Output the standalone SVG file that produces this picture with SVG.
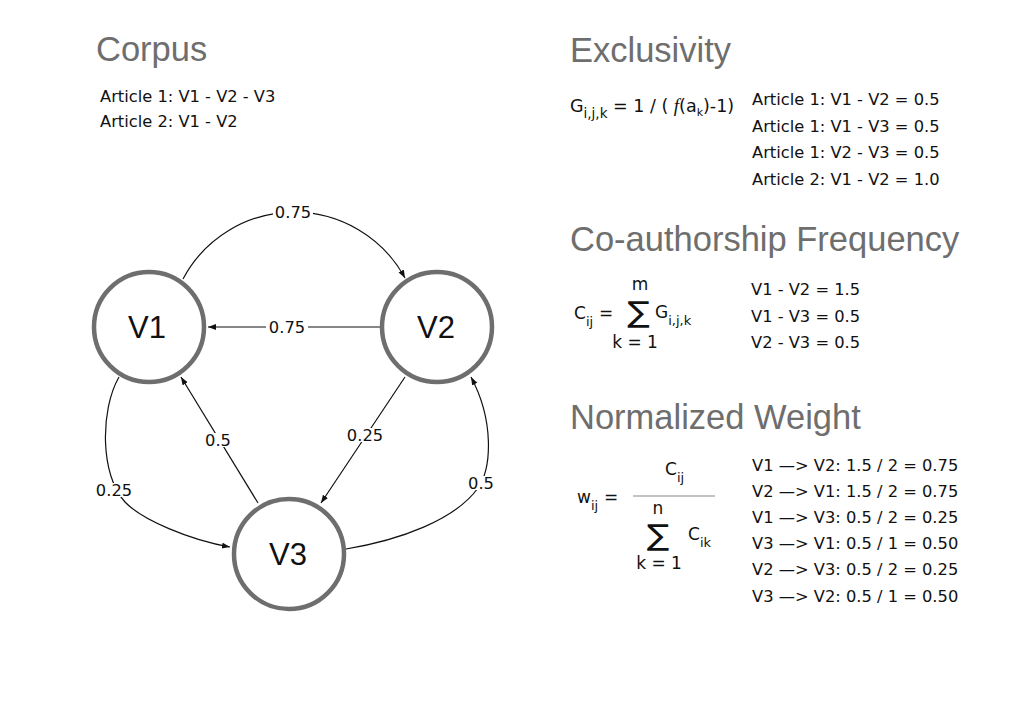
<svg xmlns="http://www.w3.org/2000/svg" width="1024" height="702" viewBox="0 0 1024 702">
<style>
.h{font-family:"Liberation Sans",Arial,sans-serif;font-size:34.5px;fill:#6e6e6e}
.t{font-family:"DejaVu Sans",Verdana,sans-serif;font-size:16.3px;fill:#111}
.f{font-family:"DejaVu Sans",Verdana,sans-serif;font-size:17px;fill:#111}
.s{font-size:13px}
.sig{font-family:"DejaVu Sans",sans-serif;fill:#111;text-anchor:middle;font-size:29px}
.node circle{fill:#fff;stroke:#6e6e6e;stroke-width:4.5}
.node text{font-family:"Liberation Sans",Arial,sans-serif;font-size:31px;fill:#111;text-anchor:middle}
.edge{fill:none;stroke:#111;stroke-width:1.2;marker-end:url(#arr)}
.bg{fill:#fff}
.lbl{font-family:"DejaVu Sans",Verdana,sans-serif;font-size:16.3px;fill:#111;text-anchor:middle}
</style>
<defs>
<marker id="arr" markerUnits="userSpaceOnUse" markerWidth="9" markerHeight="7" refX="8" refY="3" orient="auto">
<path d="M0,0 L8,3 L0,6 z" fill="#111"/>
</marker>
</defs>
<rect width="1024" height="702" fill="#fff"/>

<g id="corpus">
<text class="h" x="96" y="61">Corpus</text>
<text class="t" x="100" y="102">Article 1: V1 - V2 - V3</text>
<text class="t" x="100" y="127">Article 2: V1 - V2</text>
</g>

<g id="connectors">
<path class="edge" d="M183,279 A126,126 0 0,1 405,278"/>
<path class="edge" d="M380,327 L208,327"/>
<path class="edge" d="M258,503 L181,377"/>
<path class="edge" d="M405,377 L321,503"/>
<path class="edge" d="M119,377 C100,410 100,475 125,502 C142,520 190,540 230,547"/>
<path class="edge" d="M346,549 C400,540 455,520 478,488 C492,468 494,420 471,377"/>
<rect class="bg" x="273" y="205" width="40" height="14"/>
<rect class="bg" x="266" y="320" width="42" height="14"/>
<rect class="bg" x="203" y="433" width="30" height="14"/>
<rect class="bg" x="345" y="428" width="40" height="14"/>
<rect class="bg" x="94" y="483" width="40" height="14"/>
<rect class="bg" x="466" y="476" width="30" height="14"/>
<text class="lbl" x="293" y="218">0.75</text>
<text class="lbl" x="287" y="333">0.75</text>
<text class="lbl" x="218" y="446">0.5</text>
<text class="lbl" x="365" y="441">0.25</text>
<text class="lbl" x="114" y="496">0.25</text>
<text class="lbl" x="481" y="489">0.5</text>
</g>

<g id="V1" class="node"><circle cx="149" cy="327" r="55"/><text x="147" y="338">V1</text></g>
<g id="V2" class="node"><circle cx="437" cy="327" r="55"/><text x="436" y="338">V2</text></g>
<g id="V3" class="node"><circle cx="289" cy="554" r="55"/><text x="288" y="565">V3</text></g>

<g id="exclusivity">
<text class="h" x="570" y="62">Exclusivity</text>
<text class="f" x="570" y="112" style="font-size:17.5px">G<tspan dy="6" style="font-size:13.5px">i,j,k</tspan><tspan dy="-6"> = 1 / ( </tspan><tspan style="font-family:'Liberation Serif',serif;font-style:italic;font-size:19px">f</tspan><tspan>(a</tspan><tspan dy="4" style="font-size:11px">k</tspan><tspan dy="-4">)-1)</tspan></text>
<text class="t" x="752" y="105">Article 1: V1 - V2 = 0.5</text>
<text class="t" x="752" y="131.5">Article 1: V1 - V3 = 0.5</text>
<text class="t" x="752" y="158">Article 1: V2 - V3 = 0.5</text>
<text class="t" x="752" y="184.5">Article 2: V1 - V2 = 1.0</text>
</g>

<g id="coauthorship">
<text class="h" x="570" y="251">Co-authorship Frequency</text>
<text class="f" x="640" y="290" text-anchor="middle">m</text>
<text class="f" x="574" y="319">C<tspan class="s" dy="7">ij</tspan></text>
<text class="f" x="599" y="319">=</text>
<text class="sig" transform="translate(638.5,322) scale(1.15,1)">∑</text>
<text class="f" x="655" y="318">G<tspan class="s" dy="7">i,j,k</tspan></text>
<text class="f" x="635" y="348" text-anchor="middle">k = 1</text>
<text class="t" x="751" y="295">V1 - V2 = 1.5</text>
<text class="t" x="751" y="321.5">V1 - V3 = 0.5</text>
<text class="t" x="751" y="348">V2 - V3 = 0.5</text>
</g>

<g id="normalized">
<text class="h" x="570" y="429">Normalized Weight</text>
<text class="f" x="577" y="503">w<tspan class="s" dy="7">ij</tspan></text>
<text class="f" x="604" y="503">=</text>
<line x1="633" y1="496" x2="715" y2="496" stroke="#888" stroke-width="1.2"/>
<text class="f" x="665" y="475">C<tspan class="s" dy="7">ij</tspan></text>
<text class="f" x="658" y="514" text-anchor="middle">n</text>
<text class="sig" transform="translate(658,545) scale(1.15,1)">∑</text>
<text class="f" x="688" y="540">C<tspan class="s" dy="7">ik</tspan></text>
<text class="f" x="659" y="569" text-anchor="middle">k = 1</text>
<text class="t" x="752" y="471">V1 —&gt; V2: 1.5 / 2 = 0.75</text>
<text class="t" x="752" y="497">V2 —&gt; V1: 1.5 / 2 = 0.75</text>
<text class="t" x="752" y="523">V1 —&gt; V3: 0.5 / 2 = 0.25</text>
<text class="t" x="752" y="549">V3 —&gt; V1: 0.5 / 1 = 0.50</text>
<text class="t" x="752" y="575">V2 —&gt; V3: 0.5 / 2 = 0.25</text>
<text class="t" x="752" y="602">V3 —&gt; V2: 0.5 / 1 = 0.50</text>
</g>
</svg>
